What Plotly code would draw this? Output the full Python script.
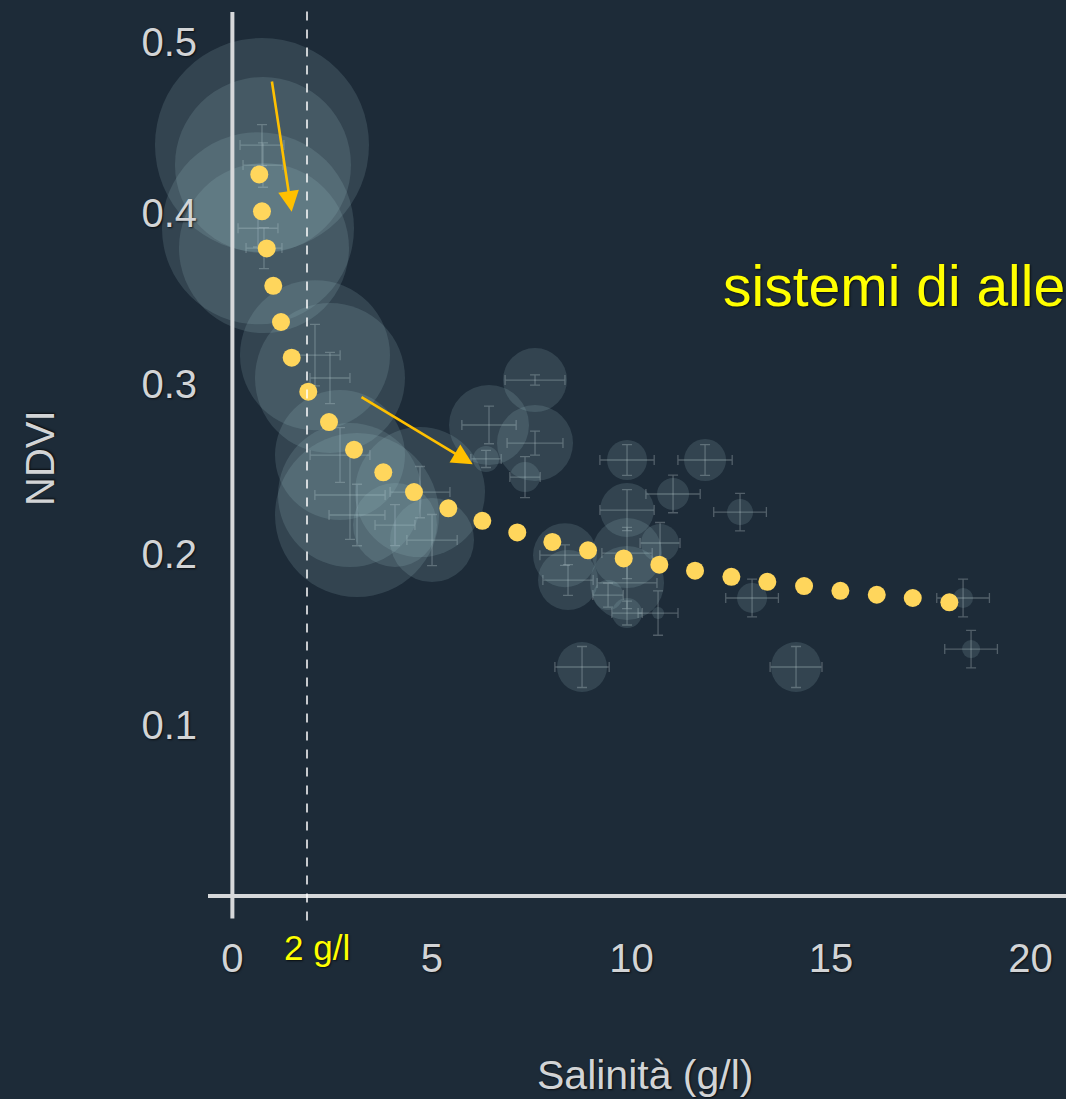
import plotly.graph_objects as go

# ---------------- data ----------------
# fitted NDVI curve vs salinity (yellow dots)
curva_sal = [0.674, 0.742, 0.860, 1.025, 1.218, 1.486, 1.902, 2.421, 3.048, 3.782,
             4.551, 5.411, 6.263, 7.140, 8.018, 8.912, 9.807, 10.699, 11.594, 12.504,
             13.406, 14.326, 15.236, 16.148, 17.050, 17.967]
curva_ndvi = [0.4225, 0.4009, 0.3792, 0.3573, 0.3361, 0.3152, 0.2953, 0.2775, 0.2613, 0.2481,
              0.2365, 0.2270, 0.2197, 0.2129, 0.2073, 0.2024, 0.1977, 0.1940, 0.1905, 0.1869,
              0.1840, 0.1815, 0.1787, 0.1764, 0.1745, 0.1720]

# observed groups (bubbles) with error bars
oss_sal = [0.742, 0.767, 0.642, 0.792, 2.070, 2.446, 2.697, 2.947, 3.123, 4.702,
           4.075, 5.003, 7.584, 6.431, 7.584, 6.356, 7.333, 9.890, 11.845, 11.043,
           12.722, 9.890, 8.336, 8.411, 9.890, 9.890, 10.717, 9.414, 9.890, 10.667,
           13.023, 8.762, 14.125, 18.311, 18.511]
oss_ndvi = [0.4397, 0.4280, 0.3910, 0.3794, 0.3167, 0.3033, 0.2582, 0.2348, 0.2231, 0.2365,
            0.2172, 0.2084, 0.3021, 0.2758, 0.2652, 0.2559, 0.2453, 0.2553, 0.2553, 0.2354,
            0.2248, 0.2260, 0.1996, 0.1850, 0.2008, 0.1833, 0.2067, 0.1762, 0.1657, 0.1657,
            0.1745, 0.1341, 0.1341, 0.1745, 0.1446]
oss_n = [214, 176, 192, 170, 150, 150, 130, 144, 164, 130,
         84, 84, 64, 80, 76, 26, 30, 40, 42, 32,
         26, 54, 64, 60, 70, 74, 38, 30, 30, 12,
         30, 50, 50, 20, 18]
err_sal = [0.55, 0.50, 0.50, 0.45, 0.63, 0.50, 0.75, 0.88, 0.70, 0.75,
           0.50, 0.63, 0.75, 0.68, 0.70, 0.38, 0.38, 0.68, 0.68, 0.68,
           0.66, 0.68, 0.63, 0.63, 0.63, 0.75, 0.50, 0.38, 0.38, 0.50,
           0.66, 0.68, 0.65, 0.66, 0.66]
err_ndvi = [0.012, 0.013, 0.011, 0.012, 0.018, 0.015, 0.016, 0.026, 0.018, 0.015,
            0.012, 0.015, 0.003, 0.011, 0.007, 0.005, 0.012, 0.009, 0.009, 0.011,
            0.011, 0.012, 0.006, 0.009, 0.015, 0.015, 0.012, 0.007, 0.007, 0.013,
            0.011, 0.012, 0.012, 0.011, 0.011]

x_ticks = [0, 5, 10, 15, 20]
y_ticks = [0.1, 0.2, 0.3, 0.4, 0.5]
soglia = 1.87          # "2 g/l" threshold line
# arrows: (tail_x, tail_y, head_x, head_y)
frecce = [(0.985, 0.4778, 1.486, 0.4006),
          (3.198, 0.2927, 6.023, 0.2528)]

# ---------------- styles ----------------
BG = "#1d2b38"
AXIS = "#d6d8da"
TXT = "#d2d4d6"
FONT = "Liberation Sans, Arial, sans-serif"
SHADOW = "1px 1px 2px rgba(0,0,0,0.7)"

fig = go.Figure()

fig.add_trace(go.Scatter(
    x=oss_sal, y=oss_ndvi, mode="markers", cliponaxis=False,
    marker=dict(size=oss_n, sizemode="diameter", color="rgba(160,198,204,0.24)",
                line=dict(width=0)),
    error_x=dict(type="data", array=err_sal, color="rgba(205,215,220,0.30)",
                 thickness=1.3, width=5),
    error_y=dict(type="data", array=err_ndvi, color="rgba(205,215,220,0.30)",
                 thickness=1.3, width=5),
    hoverinfo="skip", showlegend=False,
))

fig.add_trace(go.Scatter(
    x=curva_sal, y=curva_ndvi, mode="markers", cliponaxis=False,
    marker=dict(size=18, color="#ffd65c", line=dict(width=0)),
    showlegend=False,
))

# axis lines and threshold line
fig.add_shape(type="line", xref="x", yref="paper", x0=0, x1=0, y0=-0.004, y1=1.0,
              line=dict(color=AXIS, width=4))
fig.add_shape(type="line", xref="paper", yref="y", x0=0, x1=1, y0=0, y1=0,
              line=dict(color=AXIS, width=4))
fig.add_shape(type="line", xref="x", yref="paper", x0=soglia, x1=soglia, y0=-0.006, y1=1.003,
              line=dict(color="#ffffff", width=1.5, dash="dash"))

for tx, ty, hx, hy in frecce:
    fig.add_annotation(x=hx, y=hy, ax=tx, ay=ty, xref="x", yref="y", axref="x", ayref="y",
                       text="", showarrow=True, arrowhead=2, arrowsize=1.6, arrowwidth=2.6,
                       arrowcolor="#ffc000", standoff=0)

fig.add_annotation(text="NDVI", xref="paper", yref="paper", x=-0.196, y=0.506,
                   xanchor="center", yanchor="middle", textangle=-90, showarrow=False,
                   font=dict(size=40, color=TXT, family=FONT, shadow=SHADOW))
fig.add_annotation(text="Salinità (g/l)", xref="paper", yref="paper", x=0.509, y=-0.177,
                   xanchor="center", yanchor="middle", showarrow=False,
                   font=dict(size=41, color=TXT, family=FONT, shadow=SHADOW))
fig.add_annotation(text="2 g/l", xref="paper", yref="paper", x=0.127, y=-0.0365,
                   xanchor="center", yanchor="middle", showarrow=False,
                   font=dict(size=35, color="#ffff00", family=FONT, shadow=SHADOW))
fig.add_annotation(text="sistemi di alle", xref="paper", yref="paper",
                   x=0.598, y=0.697, xanchor="left", yanchor="middle", showarrow=False,
                   font=dict(size=57, color="#ffff00", family=FONT, shadow=SHADOW))

fig.update_layout(
    width=1066, height=1099,
    margin=dict(l=208, r=0, t=12, b=184),
    paper_bgcolor=BG, plot_bgcolor=BG,
    font=dict(family=FONT, color=TXT),
    xaxis=dict(range=[-0.611, 20.89], tickvals=x_ticks, showgrid=False, zeroline=False,
               showline=False, ticks="outside", ticklen=8, tickcolor="rgba(0,0,0,0)",
               tickfont=dict(size=40, color=TXT, family=FONT, shadow=SHADOW)),
    yaxis=dict(range=[-0.0111, 0.5176], tickvals=y_ticks, showgrid=False, zeroline=False,
               showline=False, ticks="outside", ticklen=2, tickcolor="rgba(0,0,0,0)",
               tickfont=dict(size=40, color=TXT, family=FONT, shadow=SHADOW)),
    showlegend=False,
)

fig.write_html("out.html", config={"displayModeBar": False},
               post_script="document.body.style.margin='0';")
